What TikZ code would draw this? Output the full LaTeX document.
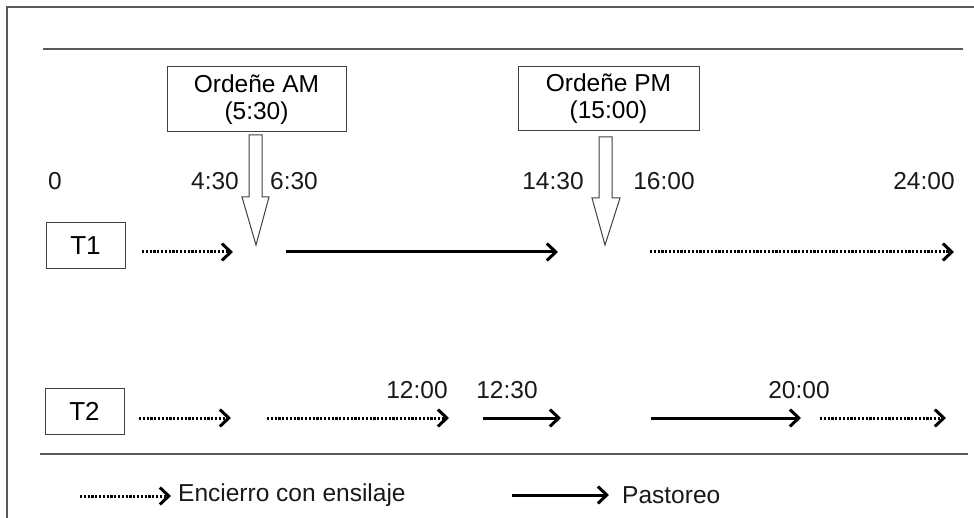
\documentclass[tikz,border=0pt]{standalone}
\usepackage{fontspec}
\setmainfont{Liberation Sans}
\usetikzlibrary{arrows.meta}
\begin{document}
\begin{tikzpicture}[x=1pt,y=-1pt,
  txt/.style={inner sep=0pt,font=\fontsize{24.5}{27}\selectfont,text=black!90},
  labelbox/.style={draw=black!75,line width=1pt,inner sep=0pt,align=center,font=\fontsize{24.5}{27}\selectfont},
  rule/.style={draw=black!65,line width=1.2pt},
  chev/.tip={Straight Barb[length=9pt,width=17pt,line width=3pt]},
  pasto/.style={line width=3pt,-chev},
  encierro/.style={line width=3pt,dash pattern=on 2.2pt off 1.6pt,-chev},
  blockarrow/.style={draw=black!75,line width=1pt,fill=white}]
\useasboundingbox (0,0) rectangle (974,518);
% frame lines
\draw[rule] (7,518) -- (7,7) -- (974,7);
\draw[rule] (43,49) -- (963,49);
\draw[rule] (40,454) -- (968,454);
% milking boxes
\node[labelbox,minimum width=179pt,minimum height=65pt] (am) at (256.5,99.5) {Ordeñe AM\\(5:30)};
\node[labelbox,minimum width=181pt,minimum height=64pt] (pm) at (608.5,99) {Ordeñe PM\\(15:00)};
% block arrows
\draw[blockarrow] (249,135) -- (249,197) -- (242,197) -- (256,245) coordinate (amtip) -- (269,197) -- (262,197) -- (262,135) -- cycle;
\draw[blockarrow] (599,137) -- (599,198) -- (592,198) -- (605,245) coordinate (pmtip) -- (620,198) -- (612,198) -- (612,137) -- cycle;
% time labels
\node[txt] (t0) at (55,181) {0};
\node[txt] (t430) at (215,181) {4:30};
\node[txt] (t630) at (294,181) {6:30};
\node[txt] (t1430) at (553,181) {14:30};
\node[txt] (t1600) at (664,181) {16:00};
\node[txt] (t2400) at (924,181) {24:00};
\node[txt] (t1200) at (417,390) {12:00};
\node[txt] (t1230) at (507,390) {12:30};
\node[txt] (t2000) at (799,390) {20:00};
% treatment boxes
\node[labelbox,minimum width=79pt,minimum height=46pt,font=\fontsize{26}{27}\selectfont] (T1) at (85.5,246) {T1};
\node[labelbox,minimum width=79pt,minimum height=46pt,font=\fontsize{26}{27}\selectfont] (T2) at (84.5,411) {T2};
% T1 row
\coordinate (a1) at (142,252); \coordinate (a2) at (233,252);
\coordinate (a3) at (286,252); \coordinate (a4) at (558,252);
\coordinate (a5) at (650,252); \coordinate (a6) at (954,252);
\draw[encierro] (a1) -- (a2);
\draw[pasto] (a3) -- (a4);
\draw[encierro] (a5) -- (a6);
% T2 row
\coordinate (b1) at (139,418); \coordinate (b2) at (231,418);
\coordinate (b3) at (267,418); \coordinate (b4) at (449,418);
\coordinate (b5) at (483,418); \coordinate (b6) at (561,418);
\coordinate (b7) at (651,418); \coordinate (b8) at (801,418);
\coordinate (b9) at (820,418); \coordinate (b10) at (946,418);
\draw[encierro] (b1) -- (b2);
\draw[encierro] (b3) -- (b4);
\draw[pasto] (b5) -- (b6);
\draw[pasto] (b7) -- (b8);
\draw[encierro] (b9) -- (b10);
% legend
\coordinate (l1) at (80,496); \coordinate (l2) at (171,496);
\coordinate (l3) at (512,495); \coordinate (l4) at (609,495);
\draw[encierro] (l1) -- (l2);
\draw[pasto] (l3) -- (l4);
\node[txt,anchor=west] (lenc) at (178,495) {Encierro con ensilaje};
\node[txt,anchor=west] (lpas) at (622,495) {Pastoreo};
\end{tikzpicture}
\end{document}
